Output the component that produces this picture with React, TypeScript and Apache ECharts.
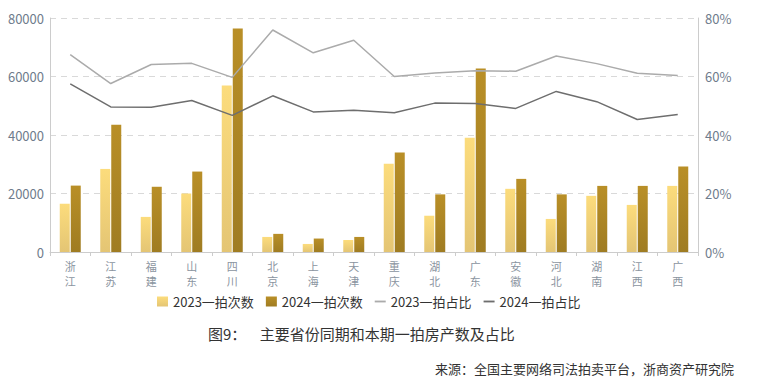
import React, { useEffect, useRef } from "react";
import * as echarts from "echarts";

const categories = ["浙江", "江苏", "福建", "山东", "四川", "北京", "上海", "天津", "重庆", "湖北", "广东", "安徽", "河北", "湖南", "江西", "广西"];
const count2023 = [16500, 28400, 12000, 20000, 56900, 5150, 2750, 4100, 30200, 12400, 39100, 21600, 11300, 19200, 16100, 22600];
const count2024 = [22700, 43500, 22300, 27500, 76400, 6200, 4600, 5150, 34000, 19700, 62700, 25000, 19700, 22600, 22600, 29200];
const ratio2023 = [67.5, 57.6, 64.1, 64.5, 59.7, 75.9, 68.1, 72.4, 60.0, 61.2, 62.0, 61.8, 67.0, 64.4, 61.1, 60.3];
const ratio2024 = [57.5, 49.6, 49.5, 51.8, 46.7, 53.4, 47.9, 48.5, 47.6, 50.9, 50.8, 49.1, 54.9, 51.4, 45.3, 47.0];
const legendNames = ["2023一拍次数", "2024一拍次数", "2023一拍占比", "2024一拍占比"];
const titleText = "图9：    主要省份同期和本期一拍房产数及占比";
const sourceText = "来源：全国主要网络司法拍卖平台，浙商资产研究院";

const FONT = "'Noto Sans CJK SC', 'Noto Sans', sans-serif";
const LINE_ICON = "path://M0,0 L12,0 L12,2 L0,2 Z";

export default function App() {
  const ref = useRef<HTMLDivElement>(null);
  useEffect(() => {
    document.body.style.margin = "0";
    if (!ref.current) return;
    const chart = echarts.init(ref.current, undefined, { renderer: "svg" });
    const grad = (a: string, b: string) =>
      new echarts.graphic.LinearGradient(0, 0, 0, 1, [
        { offset: 0, color: a },
        { offset: 1, color: b },
      ]);
    const labelBase = { color: "#8a94a0", fontSize: 11, interval: 0 };
    chart.setOption({
      animation: false,
      textStyle: { fontFamily: FONT },
      grid: { left: 50, right: 59, top: 18, bottom: 135, containLabel: false },
      legend: {
        data: [
          { name: legendNames[0], icon: "rect" },
          { name: legendNames[1], icon: "rect" },
          { name: legendNames[2], icon: LINE_ICON },
          { name: legendNames[3], icon: LINE_ICON },
        ],
        symbolKeepAspect: true,
        left: 152,
        top: 290,
        itemWidth: 11,
        itemHeight: 10,
        itemGap: 12,
        textStyle: { fontSize: 13, color: "#333", fontFamily: FONT },
      },
      xAxis: [
        {
          type: "category",
          data: categories,
          axisLine: { lineStyle: { color: "#cccccc" } },
          axisTick: { show: true, alignWithLabel: false, lineStyle: { color: "#cccccc" }, length: 4 },
          axisLabel: { ...labelBase, margin: 8, formatter: (v: string) => v.charAt(0) },
        },
        {
          type: "category",
          data: categories,
          position: "bottom",
          axisLine: { show: false },
          axisTick: { show: false },
          axisLabel: { ...labelBase, margin: 23, formatter: (v: string) => v.charAt(1) },
        },
      ],
      yAxis: [
        {
          type: "value",
          min: 0,
          max: 80000,
          interval: 20000,
          axisLine: { show: true, lineStyle: { color: "#cccccc" } },
          axisTick: { show: false },
          axisLabel: { color: "#6f7c8c", fontSize: 13, margin: 6, formatter: (v: number) => String(v) },
          splitLine: { lineStyle: { color: "#d9d9d9", type: [6, 5] } },
        },
        {
          type: "value",
          min: 0,
          max: 80,
          interval: 20,
          axisLine: { show: true, lineStyle: { color: "#cccccc" } },
          axisTick: { show: false },
          axisLabel: { color: "#6f7c8c", fontSize: 13, margin: 7, formatter: "{value}%" },
          splitLine: { show: false },
        },
      ],
      series: [
        {
          name: legendNames[0],
          type: "bar",
          data: count2023,
          barWidth: 10,
          barGap: "10%",
          itemStyle: { color: grad("#fcdc7c", "#e4c574") },
        },
        {
          name: legendNames[1],
          type: "bar",
          data: count2024,
          barWidth: 10,
          barGap: "10%",
          itemStyle: { color: grad("#b98f27", "#9f7c22") },
        },
        {
          name: legendNames[2],
          type: "line",
          yAxisIndex: 1,
          data: ratio2023,
          symbol: "none",
          lineStyle: { color: "#ababab", width: 1.5 },
          itemStyle: { color: "#ababab" },
        },
        {
          name: legendNames[3],
          type: "line",
          yAxisIndex: 1,
          data: ratio2024,
          symbol: "none",
          lineStyle: { color: "#6e6e6e", width: 1.5 },
          itemStyle: { color: "#6e6e6e" },
        },
      ],
      graphic: [
        {
          type: "text",
          left: 208,
          top: 326,
          style: { text: titleText, fontSize: 15, fill: "#333", fontFamily: FONT },
        },
        {
          type: "text",
          left: 435,
          top: 362,
          style: { text: sourceText, fontSize: 13, fill: "#333", fontFamily: FONT },
        },
      ],
    });
    return () => chart.dispose();
  }, []);
  return <div ref={ref} style={{ width: 757, height: 387 }} />;
}
